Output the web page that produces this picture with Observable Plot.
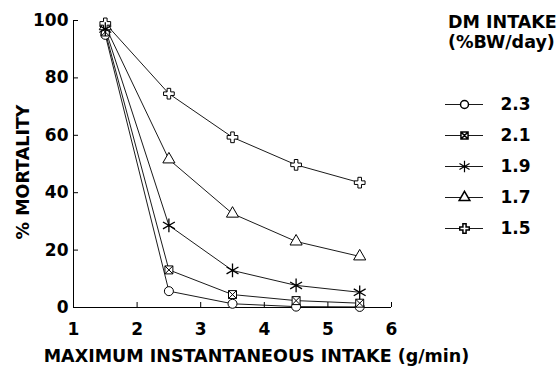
<!DOCTYPE html>
<html><head><meta charset="utf-8">
<script src="https://cdn.jsdelivr.net/npm/d3@7"></script>
<script src="https://cdn.jsdelivr.net/npm/@observablehq/plot@0.6"></script>
<style>
body{margin:0;background:#fff;font-family:"DejaVu Sans",Arial,Helvetica,sans-serif;}
#wrap{position:relative;width:558px;height:366px;overflow:hidden;}
#legtitle{position:absolute;left:448px;top:12px;font-size:17.5px;font-weight:bold;line-height:20px;color:#000;white-space:nowrap;}
#legend{position:absolute;left:440px;top:60px;}
</style></head>
<body>
<div id="wrap"><div id="chart"></div><div id="legtitle">DM INTAKE<br>(%BW/day)</div><div id="legend"></div></div>
<script>
const xVals = [1.5, 2.5, 3.5, 4.5, 5.5];
const series = ["2.3", "2.1", "1.9", "1.7", "1.5"];
const m23 = [95, 5.7, 1.3, 0.3, 0.2];
const m21 = [96, 13.1, 4.5, 2.4, 1.5];
const m19 = [97, 28.6, 12.9, 7.7, 5.3];
const m17 = [98, 51.6, 32.7, 23, 17.8];
const m15 = [99, 74.5, 59.3, 49.7, 43.5];
const xTicks = [1, 2, 3, 4, 5, 6];
const yTicks = [0, 20, 40, 60, 80, 100];

const squareX = {draw(c, size){const s=Math.sqrt(size)/2; c.moveTo(-s,-s);c.lineTo(s,-s);c.lineTo(s,s);c.lineTo(-s,s);c.closePath();c.moveTo(-s,-s);c.lineTo(s,s);c.moveTo(s,-s);c.lineTo(-s,s);}};
const symbols = {"2.3": "circle", "2.1": squareX, "1.9": "asterisk", "1.7": "triangle", "1.5": "cross"};

const values = {"2.3": m23, "2.1": m21, "1.9": m19, "1.7": m17, "1.5": m15};
const data = series.flatMap(s => xVals.map((x, i) => ({s, x, y: values[s][i]})));
const font = '"DejaVu Sans",Arial,Helvetica,sans-serif';
const isStar = d => (d.s ?? d) === "1.9";

const chart = Plot.plot({
  width: 558, height: 366,
  marginLeft: 73, marginRight: 167, marginTop: 20, marginBottom: 59,
  style: {fontFamily: font, fontSize: "17px", fontWeight: "bold", background: "white", color: "black", overflow: "visible"},
  x: {domain: [1, 6]},
  y: {domain: [0, 100]},
  marks: [
    Plot.axisX({ticks: xTicks, tickFormat: "d", tickSize: -5, tickPadding: 20, label: null, fontSize: 17}),
    Plot.axisY({ticks: yTicks, tickFormat: "d", tickSize: -5, tickPadding: 10, label: null, fontSize: 17}),
    Plot.ruleX([1], {stroke: "black", strokeWidth: 1}),
    Plot.ruleY([0], {stroke: "black", strokeWidth: 1}),
    Plot.line(data, {x: "x", y: "y", z: "s", stroke: "black", strokeWidth: 0.9}),
    Plot.dot(data, {filter: d => !isStar(d), x: "x", y: "y", symbol: d => symbols[d.s], r: 4.5, stroke: "black", fill: "white", strokeWidth: 1}),
    Plot.dot(data, {filter: isStar, x: "x", y: "y", symbol: "asterisk", r: 6.5, stroke: "black", strokeWidth: 1.3}),
    Plot.text(["MAXIMUM INSTANTANEOUS INTAKE (g/min)"], {frameAnchor: "bottom", dy: 54, dx: 24, fontSize: 17.5, text: d => d}),
    Plot.text(["% MORTALITY"], {frameAnchor: "left", textAnchor: "middle", dx: -50, dy: 8, rotate: -90, fontSize: 17.5, text: d => d})
  ]
});
document.getElementById("chart").append(chart);

const legend = Plot.plot({
  width: 118, height: 210, margin: 0,
  style: {fontFamily: font, fontSize: "17px", fontWeight: "bold", background: "transparent", color: "black", overflow: "visible"},
  x: {domain: [0, 1], range: [5, 43], axis: null},
  y: {type: "point", domain: series, range: [27, 185], axis: null},
  marks: [
    Plot.ruleY(series, {y: d => d, x1: 0, x2: 1, stroke: "black", strokeWidth: 0.9}),
    Plot.dot(series, {filter: d => !isStar(d), y: d => d, x: 0.5, symbol: d => symbols[d], r: 4, stroke: "black", fill: "white"}),
    Plot.dot(series, {filter: isStar, y: d => d, x: 0.5, symbol: "asterisk", r: 5.5, stroke: "black", strokeWidth: 1.2}),
    Plot.text(series, {y: d => d, x: 1, dx: 17, textAnchor: "start", text: d => d, fontSize: 17})
  ]
});
document.getElementById("legend").append(legend);
</script>
</body></html>
